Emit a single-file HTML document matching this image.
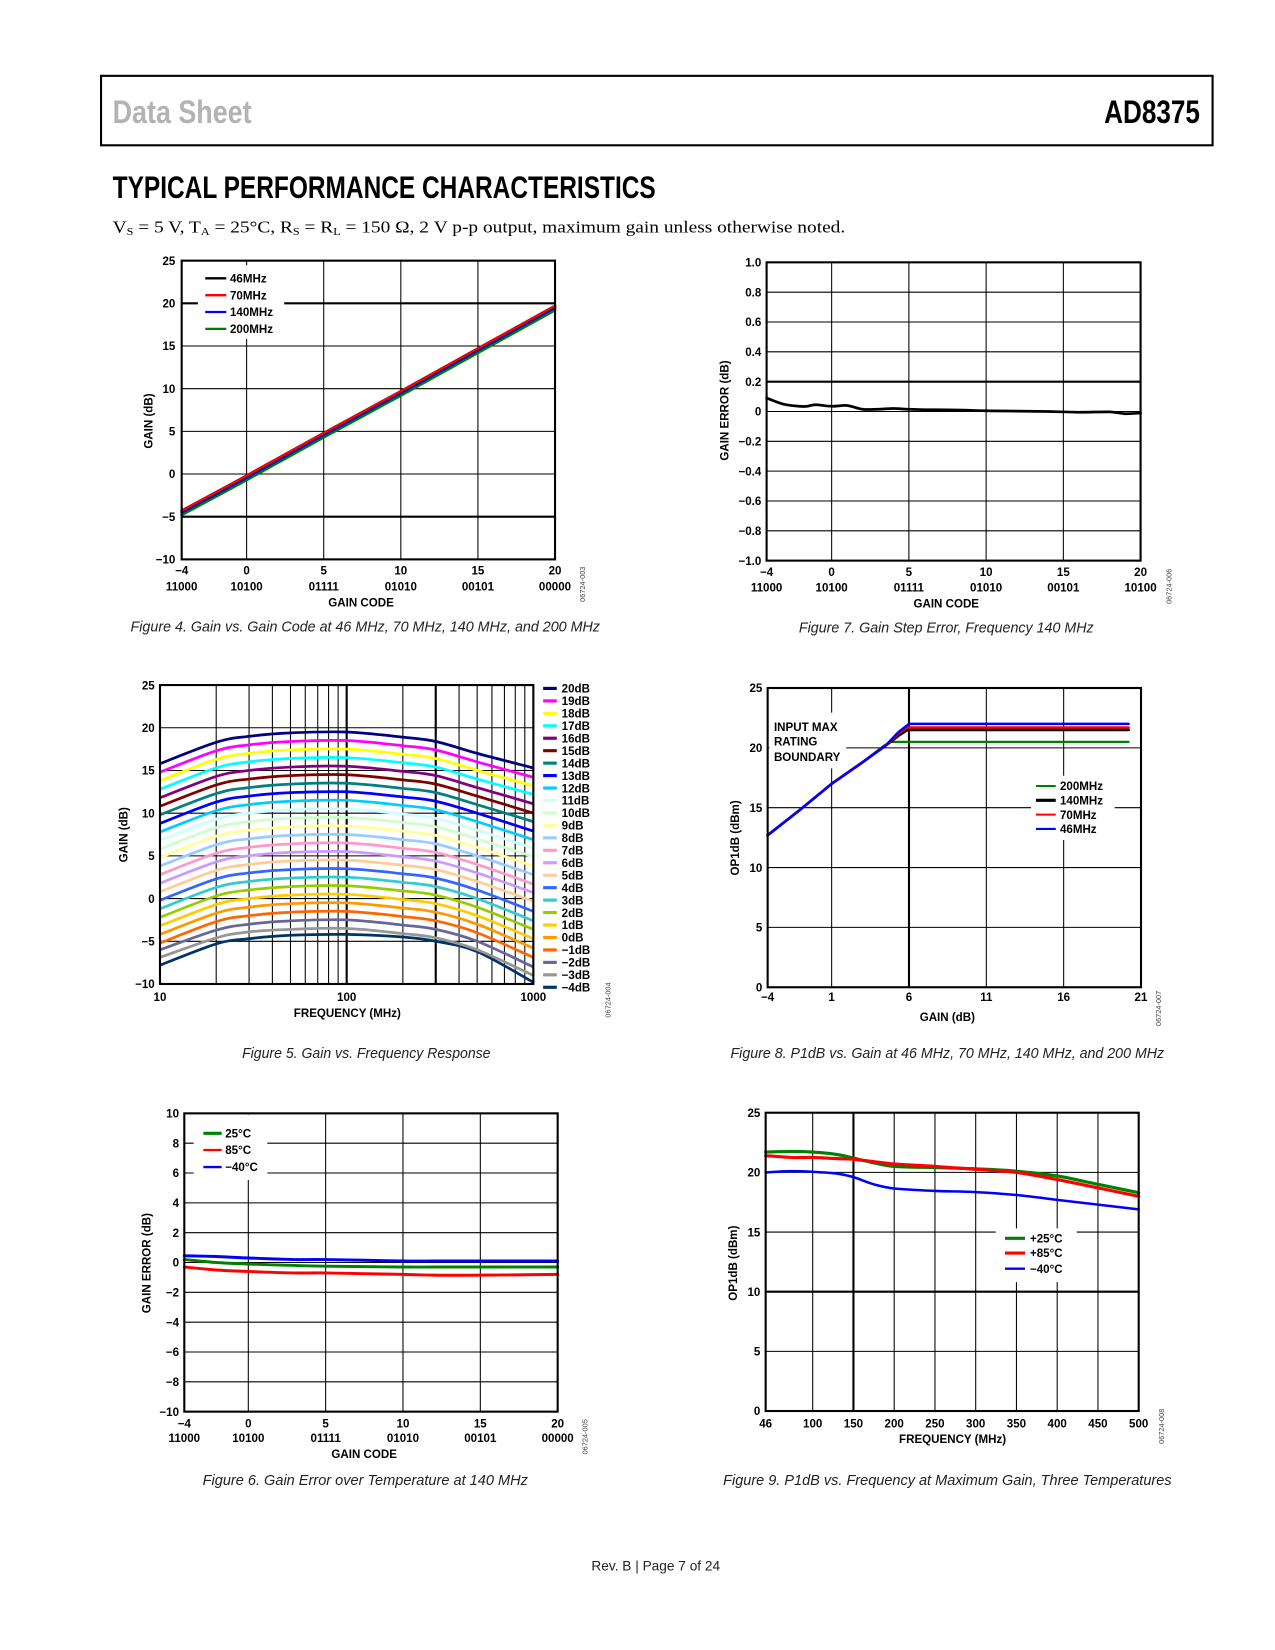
<!DOCTYPE html>
<html><head><meta charset="utf-8"><style>
html,body{margin:0;padding:0;background:#fff}
svg{display:block}
.t{font-family:"Liberation Sans",sans-serif;font-weight:bold;font-size:11px;fill:#000}
.cap{font-family:"Liberation Sans",sans-serif;font-style:italic;font-size:14px;fill:#222}
.id{font-family:"Liberation Sans",sans-serif;font-size:7px;fill:#444}
</style></head><body>
<svg id="page" width="1275" height="1650" viewBox="0 0 1211.3 1567.5" xmlns="http://www.w3.org/2000/svg">
<rect x="96" y="72" width="1056" height="66" fill="none" stroke="#000" stroke-width="2"/>
<text x="107" y="117" font-family="'Liberation Sans Narrow','Liberation Sans',sans-serif" font-weight="bold" font-size="31" fill="#b3b3b3" textLength="132" lengthAdjust="spacingAndGlyphs">Data Sheet</text>
<text x="1140" y="117" text-anchor="end" font-family="'Liberation Sans Narrow','Liberation Sans',sans-serif" font-weight="bold" font-size="31" fill="#000" textLength="91" lengthAdjust="spacingAndGlyphs">AD8375</text>
<text x="107" y="188" font-family="'Liberation Sans Narrow','Liberation Sans',sans-serif" font-weight="bold" font-size="30" fill="#000" textLength="516" lengthAdjust="spacingAndGlyphs">TYPICAL PERFORMANCE CHARACTERISTICS</text>
<text x="107" y="221" font-family="'Liberation Serif',serif" font-size="16" fill="#000" textLength="696" lengthAdjust="spacingAndGlyphs">V<tspan font-size="10" dy="2">S</tspan><tspan dy="-2"> = 5 V, T</tspan><tspan font-size="10" dy="2">A</tspan><tspan dy="-2"> = 25°C, R</tspan><tspan font-size="10" dy="2">S</tspan><tspan dy="-2"> = R</tspan><tspan font-size="10" dy="2">L</tspan><tspan dy="-2"> = 150 Ω, 2 V p-p output, maximum gain unless otherwise noted.</tspan></text>
<text x="623" y="1492" text-anchor="middle" font-family="'Liberation Sans',sans-serif" font-size="13" fill="#222">Rev. B | Page 7 of 24</text>
</svg>
<script>
// ---------- DATA ----------
// Figure 4
const f4X = [-4, 0, 5, 10, 15, 20];
const f4Names = ['46MHz', '70MHz', '140MHz', '200MHz'];
const f4_46 = [-4.3, -0.2, 4.8, 9.7, 14.7, 19.7];
const f4_70 = [-4.3, -0.2, 4.8, 9.7, 14.7, 19.7];
const f4_140 = [-4.5, -0.4, 4.6, 9.5, 14.5, 19.5];
const f4_200 = [-4.8, -0.7, 4.3, 9.2, 14.2, 19.2];
const codesA = ['11000', '10100', '01111', '01010', '00101', '00000'];
const codesB = ['11000', '10100', '01111', '01010', '00101', '10100'];
const codeTicks = [-4, 0, 5, 10, 15, 20];
// Figure 7
const f7X = [-4, -3, -2, -1.5, -1, 0, 1, 2, 3, 4, 5, 6, 8, 10, 12, 14, 16, 18, 19, 20];
const f7Err = [0.09, 0.05, 0.035, 0.035, 0.045, 0.035, 0.04, 0.015, 0.015, 0.02, 0.015, 0.012, 0.01, 0.005, 0.003, 0.0, -0.005, -0.003, -0.015, -0.01];
const f7YTicks = [1.0, 0.8, 0.6, 0.4, 0.2, 0, -0.2, -0.4, -0.6, -0.8, -1.0];
const f7YLabels = ['1.0', '0.8', '0.6', '0.4', '0.2', '0', '−0.2', '−0.4', '−0.6', '−0.8', '−1.0'];
// Figure 5
const f5Freq = [10, 20, 30, 50, 100, 200, 300, 500, 1000];
const f5Labels = ['20dB','19dB','18dB','17dB','16dB','15dB','14dB','13dB','12dB','11dB','10dB','9dB','8dB','7dB','6dB','5dB','4dB','3dB','2dB','1dB','0dB','−1dB','−2dB','−3dB','−4dB'];
const f5Colors = ['#000080','#ff00ff','#ffff00','#00ffff','#800080','#800000','#008080','#0000ff','#00ccff','#ccffff','#ccffcc','#ffff99','#99ccff','#ff99cc','#cc99ff','#ffcc99','#3366ff','#33cccc','#99cc00','#ffcc00','#ff9900','#ff6600','#666699','#969696','#003366'];
const g20 = [15.8,18.3,19.0,19.4,19.5,18.9,18.4,17.0,15.3];
const g19 = [14.8,17.3,18.0,18.4,18.5,17.9,17.4,16.0,14.2];
const g18 = [13.8,16.3,17.0,17.4,17.5,16.9,16.4,15.0,13.2];
const g17 = [12.8,15.3,16.0,16.4,16.5,15.9,15.4,14.0,12.2];
const g16 = [11.8,14.3,15.0,15.4,15.5,14.9,14.4,13.0,11.1];
const g15 = [10.8,13.3,14.0,14.4,14.5,13.9,13.4,12.0,10.0];
const g14 = [9.8,12.3,13.0,13.4,13.5,12.9,12.4,11.0,9.0];
const g13 = [8.8,11.3,12.0,12.4,12.5,11.9,11.4,10.0,7.9];
const g12 = [7.8,10.3,11.0,11.4,11.5,10.9,10.4,9.0,6.9];
const g11 = [6.8,9.3,10.0,10.4,10.5,9.9,9.4,8.0,5.9];
const g10 = [5.8,8.3,9.0,9.4,9.5,8.9,8.4,7.0,4.9];
const g9 = [4.8,7.3,8.0,8.4,8.5,7.9,7.4,6.0,3.8];
const g8 = [3.8,6.3,7.0,7.4,7.5,6.9,6.4,5.0,2.8];
const g7 = [2.8,5.3,6.0,6.4,6.5,5.9,5.4,4.0,1.7];
const g6 = [1.8,4.3,5.0,5.4,5.5,4.9,4.4,3.0,0.7];
const g5 = [0.8,3.3,4.0,4.4,4.5,3.9,3.4,2.0,-0.3];
const g4 = [-0.2,2.3,3.0,3.4,3.5,2.9,2.4,1.0,-1.5];
const g3 = [-1.2,1.3,2.0,2.4,2.5,1.9,1.4,0.0,-2.6];
const g2 = [-2.2,0.3,1.0,1.4,1.5,0.9,0.4,-1.0,-3.6];
const g1 = [-3.2,-0.7,0.0,0.4,0.5,-0.1,-0.6,-2.0,-4.7];
const g0 = [-4.2,-1.7,-1.0,-0.6,-0.5,-1.1,-1.6,-3.0,-5.8];
const gm1 = [-5.2,-2.7,-2.0,-1.6,-1.5,-2.1,-2.6,-4.0,-6.9];
const gm2 = [-6.0,-3.7,-3.0,-2.6,-2.5,-3.1,-3.6,-5.0,-8.0];
const gm3 = [-6.9,-4.6,-3.9,-3.6,-3.5,-4.1,-4.6,-6.0,-9.0];
const gm4 = [-7.8,-5.3,-4.7,-4.3,-4.2,-4.5,-5.0,-6.2,-9.8];
const f5Series = [g20,g19,g18,g17,g16,g15,g14,g13,g12,g11,g10,g9,g8,g7,g6,g5,g4,g3,g2,g1,g0,gm1,gm2,gm3,gm4];
// Figure 8
const f8Names = ['200MHz', '140MHz', '70MHz', '46MHz'];
const f8X_200 = [-4, -1.5, 1, 3, 4.3, 4.8, 20.2];
const f8Y_200 = [12.7, 14.8, 17.0, 18.8, 20.1, 20.5, 20.5];
const f8X_140 = [-4, -1.5, 1, 3, 4.5, 5.3, 5.9, 20.2];
const f8Y_140 = [12.7, 14.8, 17.0, 18.8, 20.2, 21.0, 21.5, 21.5];
const f8X_70 = [-4, -1.5, 1, 3, 4.5, 5.3, 5.9, 20.2];
const f8Y_70 = [12.7, 14.8, 17.0, 18.8, 20.2, 21.2, 21.7, 21.7];
const f8X_46 = [-4, -1.5, 1, 3, 4.5, 5.3, 6.0, 20.2];
const f8Y_46 = [12.7, 14.8, 17.0, 18.8, 20.2, 21.3, 22.0, 22.0];
const f8XTicks = [-4, 1, 6, 11, 16, 21];
// Figure 6
const f6X = [-4, -2, 0, 3, 5, 10, 12, 15, 20];
const f6_25 = [0.2, 0.0, -0.1, -0.2, -0.25, -0.3, -0.3, -0.3, -0.3];
const f6_85 = [-0.3, -0.5, -0.6, -0.7, -0.7, -0.8, -0.85, -0.85, -0.8];
const f6_m40 = [0.45, 0.4, 0.3, 0.2, 0.2, 0.1, 0.1, 0.1, 0.1];
const f6YTicks = [10, 8, 6, 4, 2, 0, -2, -4, -6, -8, -10];
// Figure 9
const f9F = [46, 75, 100, 130, 150, 175, 200, 250, 300, 350, 400, 450, 500];
const f9_25 = [21.7, 21.75, 21.7, 21.5, 21.2, 20.8, 20.5, 20.4, 20.3, 20.1, 19.7, 19.0, 18.3];
const f9_85 = [21.4, 21.25, 21.25, 21.15, 21.1, 20.9, 20.7, 20.5, 20.25, 20.0, 19.4, 18.7, 18.0];
const f9_m40 = [20.0, 20.1, 20.05, 19.9, 19.6, 19.0, 18.65, 18.45, 18.35, 18.1, 17.7, 17.3, 16.9];
const f9XTicks = [46, 100, 150, 200, 250, 300, 350, 400, 450, 500];

// ---------- HELPERS ----------
const NS = 'http://www.w3.org/2000/svg';
const page = document.getElementById('page');
function el(tag, attrs, parent) {
  const e = document.createElementNS(NS, tag);
  for (const k in attrs) e.setAttribute(k, attrs[k]);
  (parent || page).appendChild(e);
  return e;
}
function txt(s, x, y, cls, anchor, parent) {
  const e = el('text', {x: x, y: y, class: cls, 'text-anchor': anchor || 'middle'}, parent);
  e.textContent = s;
  return e;
}
function pw(d, r) {
  return v => {
    let i = 0;
    while (i < d.length - 2 && v > d[i + 1]) i++;
    return r[i] + (v - d[i]) / (d[i + 1] - d[i]) * (r[i + 1] - r[i]);
  };
}
function lin(d0, d1, r0, r1) { return v => r0 + (v - d0) / (d1 - d0) * (r1 - r0); }
function pathFrom(pts, straight) {
  let d = 'M' + pts[0][0].toFixed(1) + ',' + pts[0][1].toFixed(1);
  if (straight) {
    for (let i = 1; i < pts.length; i++) d += 'L' + pts[i][0].toFixed(1) + ',' + pts[i][1].toFixed(1);
    return d;
  }
  for (let i = 0; i < pts.length - 1; i++) {
    const p0 = pts[i - 1] || pts[i], p1 = pts[i], p2 = pts[i + 1], p3 = pts[i + 2] || p2;
    const c1x = p1[0] + (p2[0] - p0[0]) / 6, c1y = p1[1] + (p2[1] - p0[1]) / 6;
    const c2x = p2[0] - (p3[0] - p1[0]) / 6, c2y = p2[1] - (p3[1] - p1[1]) / 6;
    d += 'C' + c1x.toFixed(1) + ',' + c1y.toFixed(1) + ' ' + c2x.toFixed(1) + ',' + c2y.toFixed(1) + ' ' + p2[0].toFixed(1) + ',' + p2[1].toFixed(1);
  }
  return d;
}
function frame(g, b) {
  const r = el('rect', {x: b.l, y: b.t, width: b.r - b.l, height: b.b - b.t, fill: 'none', stroke: '#000', 'stroke-width': 2}, g);
  
  
}
function hline(g, y, b, w) { el('line', {x1: b.l, x2: b.r, y1: y, y2: y, stroke: '#000', 'stroke-width': w}, g); }
function vline(g, x, b, w) { el('line', {x1: x, x2: x, y1: b.t, y2: b.b, stroke: '#000', 'stroke-width': w}, g); }
function series(g, xs, ys, sx, sy, color, w, name, clip, straight) {
  const pts = xs.map((v, i) => [sx(v), sy(ys[i])]);
  const p = el('path', {d: pathFrom(pts, straight), fill: 'none', stroke: color, 'stroke-width': w, 'stroke-linejoin': 'round', 'stroke-linecap': 'round'}, g);
  if (clip) p.setAttribute('clip-path', clip);
  
  
  return p;
}
function legendBox(g, x, y, w, h) { el('rect', {x: x, y: y, width: w, height: h, fill: '#fff'}, g); }
function legendEntry(g, x1, x2, tx, y, color, w, label) {
  const le = el('g', {}, g);
  
  
  el('line', {x1: x1, x2: x2, y1: y, y2: y, stroke: color, 'stroke-width': w}, le);
  txt(label, tx, y + 4, 't', 'start', le);
}
function rotText(s, x, y, cls, parent) {
  const e = el('text', {x: 0, y: 0, class: cls, 'text-anchor': 'middle', transform: 'translate(' + x + ',' + y + ') rotate(-90)'}, parent);
  e.textContent = s;
  return e;
}
function caption(g, s, x, y, w) {
  const c = el('text', {x: x, y: y, class: 'cap', 'text-anchor': 'middle', textLength: w, lengthAdjust: 'spacingAndGlyphs'}, g);
  c.textContent = s;
  
  
}
function fig(name) {
  const g = el('g', {});
  
  
  return g;
}

// ---------- FIGURE 4 ----------
(function () {
  const g = fig('figure-4-gain-vs-code');
  const b = {l: 172.6, r: 527.3, t: 247.6, b: 531.4};
  const sx = pw([-4, 0, 20], [b.l, 234.3, b.r]);
  const sy = lin(-10, 25, b.b, b.t);
  [0, 5, 10, 15].forEach(v => vline(g, sx(v), b, 1));
  [-5, 0, 5, 10, 15, 20].forEach(v => hline(g, sy(v), b, (v === 20 || v === -5) ? 2 : 1));
  legendBox(g, 188, 252, 82, 70);
  series(g, f4X, f4_200, sx, sy, '#008000', 2.6, 'series-200mhz');
  series(g, f4X, f4_140, sx, sy, '#0000ff', 2.6, 'series-140mhz');
  series(g, f4X, f4_46, sx, sy, '#000000', 2.6, 'series-46mhz');
  series(g, f4X, f4_70, sx, sy, '#ff0000', 2.2, 'series-70mhz');
  frame(g, b);
  [25, 20, 15, 10, 5, 0, -5, -10].forEach(v => txt(String(v).replace('-', '−'), b.l - 6, sy(v) + 4, 't', 'end', g));
  codeTicks.forEach((v, i) => { txt(String(v).replace('-', '−'), sx(v), 546, 't', 'middle', g); txt(codesA[i], sx(v), 561, 't', 'middle', g); });
  txt('GAIN CODE', 343, 576, 't', 'middle', g);
  rotText('GAIN (dB)', 145, 400, 't', g);
  const cols = ['#000000', '#ff0000', '#0000ff', '#008000'];
  f4Names.forEach((n, i) => legendEntry(g, 195, 215, 218.5, 264.4 + i * 16, cols[i], 2.2, n));
  rotText('06724-003', 556, 555, 'id', g);
  caption(g, 'Figure 4. Gain vs. Gain Code at 46 MHz, 70 MHz, 140 MHz, and 200 MHz', 347, 600, 446);
})();

// ---------- FIGURE 7 ----------
(function () {
  const g = fig('figure-7-gain-step-error');
  const b = {l: 728.3, r: 1083.6, t: 249.2, b: 532.6};
  const sx = pw([-4, 0, 20], [b.l, 790.1, b.r]);
  const sy = lin(-1, 1, b.b, b.t);
  [0, 5, 10, 15].forEach(v => vline(g, sx(v), b, 1));
  f7YTicks.forEach(v => hline(g, sy(v), b, Math.abs(v - 0.2) < 1e-9 ? 2 : 1));
  series(g, f7X, f7Err, sx, sy, '#000', 2.6, 'series-gain-step-error');
  frame(g, b);
  f7YTicks.forEach((v, i) => txt(f7YLabels[i], b.l - 5, sy(v) + 4, 't', 'end', g));
  codeTicks.forEach((v, i) => { txt(String(v).replace('-', '−'), sx(v), 547, 't', 'middle', g); txt(codesB[i], sx(v), 562, 't', 'middle', g); });
  txt('GAIN CODE', 899, 577, 't', 'middle', g);
  rotText('GAIN ERROR (dB)', 692, 390, 't', g);
  rotText('06724-006', 1113, 557, 'id', g);
  caption(g, 'Figure 7. Gain Step Error, Frequency 140 MHz', 899, 601, 280);
})();

// ---------- FIGURE 5 ----------
(function () {
  const g = fig('figure-5-gain-vs-frequency');
  const b = {l: 152, r: 506.7, t: 650.8, b: 934.8};
  const sx = v => b.l + (Math.log10(v) - 1) / 2 * (b.r - b.l);
  const sy = lin(-10, 25, b.b, b.t);
  const defs = el('defs', {}, g);
  const cp = el('clipPath', {id: 'c5'}, defs);
  el('rect', {x: b.l, y: b.t, width: b.r - b.l, height: b.b - b.t}, cp);
  [20, 30, 40, 50, 60, 70, 80, 90, 100, 200, 300, 400, 500, 600, 700, 800, 900].forEach(v => vline(g, sx(v), b, (v === 100 || v === 300) ? 2 : 1));
  [-5, 0, 5, 10, 15, 20].forEach(v => hline(g, sy(v), b, 1));
  for (let i = f5Series.length - 1; i >= 0; i--) series(g, f5Freq, f5Series[i], sx, sy, f5Colors[i], 2.6, 'series-' + f5Labels[i].replace('−', 'minus-'), 'url(#c5)');
  frame(g, b);
  [25, 20, 15, 10, 5, 0, -5, -10].forEach(v => txt(String(v).replace('-', '−'), b.l - 5, sy(v) + 4, 't', 'end', g));
  [10, 100, 1000].forEach(v => txt(String(v), sx(v), 951, 't', 'middle', g));
  txt('FREQUENCY (MHz)', 330, 966, 't', 'middle', g);
  rotText('GAIN (dB)', 121, 793, 't', g);
  f5Labels.forEach((n, i) => legendEntry(g, 516, 529, 533.6, 654 + i * 11.83, f5Colors[i], 3, n));
  rotText('06724-004', 580, 950, 'id', g);
  caption(g, 'Figure 5. Gain vs. Frequency Response', 348, 1005, 236);
})();

// ---------- FIGURE 8 ----------
(function () {
  const g = fig('figure-8-p1db-vs-gain');
  const b = {l: 729.3, r: 1084, t: 653.6, b: 937.9};
  const sx = pw([-4, 1, 21], [b.l, 790.1, b.r]);
  const sy = lin(0, 25, b.b, b.t);
  [1, 6, 11, 16].forEach(v => vline(g, sx(v), b, v === 6 ? 2 : 1));
  [5, 10, 15, 20].forEach(v => hline(g, sy(v), b, 1));
  legendBox(g, 731, 677, 73, 53);
  legendBox(g, 979.5, 737, 79.5, 61);
  series(g, f8X_200, f8Y_200, sx, sy, '#008000', 2.2, 'series-200mhz', null, true);
  series(g, f8X_140, f8Y_140, sx, sy, '#000000', 2.6, 'series-140mhz', null, true);
  series(g, f8X_70, f8Y_70, sx, sy, '#ff0000', 2.4, 'series-70mhz', null, true);
  series(g, f8X_46, f8Y_46, sx, sy, '#0000ff', 2.4, 'series-46mhz', null, true);
  frame(g, b);
  [25, 20, 15, 10, 5, 0].forEach(v => txt(String(v), b.l - 5, sy(v) + 4, 't', 'end', g));
  f8XTicks.forEach(v => txt(String(v).replace('-', '−'), sx(v), 951, 't', 'middle', g));
  txt('GAIN (dB)', 900, 970, 't', 'middle', g);
  rotText('OP1dB (dBm)', 702, 796, 't', g);
  const ann = el('g', {}, g);
  
  
  txt('INPUT MAX', 735.3, 694.3, 't', 'start', ann);
  txt('RATING', 735.3, 708.3, 't', 'start', ann);
  txt('BOUNDARY', 735.3, 722.9, 't', 'start', ann);
  const cols = ['#008000', '#000000', '#ff0000', '#0000ff'];
  f8Names.forEach((n, i) => legendEntry(g, 984.2, 1003, 1007, 746.7 + i * 13.6, cols[i], i === 1 ? 3 : 2, n));
  rotText('06724-007', 1103, 958, 'id', g);
  caption(g, 'Figure 8. P1dB vs. Gain at 46 MHz, 70 MHz, 140 MHz, and 200 MHz', 900, 1005, 412);
})();

// ---------- FIGURE 6 ----------
(function () {
  const g = fig('figure-6-gain-error-temperature');
  const b = {l: 175.1, r: 529.8, t: 1057.7, b: 1341.1};
  const sx = pw([-4, 0, 20], [b.l, 235.9, b.r]);
  const sy = lin(-10, 10, b.b, b.t);
  [0, 5, 10, 15].forEach(v => vline(g, sx(v), b, 1));
  f6YTicks.forEach(v => hline(g, sy(v), b, 1));
  legendBox(g, 184, 1059, 70, 62);
  series(g, f6X, f6_85, sx, sy, '#ff0000', 2.8, 'series-85c');
  series(g, f6X, f6_25, sx, sy, '#008000', 2.8, 'series-25c');
  series(g, f6X, f6_m40, sx, sy, '#0000ff', 2.8, 'series-minus-40c');
  frame(g, b);
  f6YTicks.forEach(v => txt(String(v).replace('-', '−'), b.l - 5, sy(v) + 4, 't', 'end', g));
  codeTicks.forEach((v, i) => { txt(String(v).replace('-', '−'), sx(v), 1356, 't', 'middle', g); txt(codesA[i], sx(v), 1370, 't', 'middle', g); });
  txt('GAIN CODE', 346, 1385, 't', 'middle', g);
  rotText('GAIN ERROR (dB)', 143, 1200, 't', g);
  legendEntry(g, 193.2, 210.6, 214, 1076.7, '#008000', 3, '25°C');
  legendEntry(g, 193.2, 210.6, 214, 1092.5, '#ff0000', 2.2, '85°C');
  legendEntry(g, 193.2, 210.6, 214, 1108.7, '#0000ff', 2.2, '−40°C');
  rotText('06724-005', 558, 1365, 'id', g);
  caption(g, 'Figure 6. Gain Error over Temperature at 140 MHz', 347, 1411, 309);
})();

// ---------- FIGURE 9 ----------
(function () {
  const g = fig('figure-9-p1db-vs-frequency');
  const b = {l: 727.4, r: 1081.8, t: 1057.1, b: 1340.5};
  const sx = pw([46, 100, 500], [b.l, 772.1, b.r]);
  const sy = lin(0, 25, b.b, b.t);
  [100, 150, 200, 250, 300, 350, 400, 450].forEach(v => vline(g, sx(v), b, v === 150 ? 2 : 1));
  [5, 10, 15, 20].forEach(v => hline(g, sy(v), b, v === 10 ? 2 : 1));
  legendBox(g, 946, 1167, 77, 51);
  series(g, f9F, f9_25, sx, sy, '#008000', 3, 'series-plus-25c');
  series(g, f9F, f9_85, sx, sy, '#ff0000', 3, 'series-plus-85c');
  series(g, f9F, f9_m40, sx, sy, '#0000ff', 2.4, 'series-minus-40c');
  frame(g, b);
  [25, 20, 15, 10, 5, 0].forEach(v => txt(String(v), b.l - 5, sy(v) + 4, 't', 'end', g));
  f9XTicks.forEach(v => txt(String(v), sx(v), 1356, 't', 'middle', g));
  txt('FREQUENCY (MHz)', 905, 1371, 't', 'middle', g);
  rotText('OP1dB (dBm)', 700, 1200, 't', g);
  legendEntry(g, 954.8, 973.8, 978.5, 1176.4, '#008000', 3, '+25°C');
  legendEntry(g, 954.8, 973.8, 978.5, 1190.4, '#ff0000', 3, '+85°C');
  legendEntry(g, 954.8, 973.8, 978.5, 1205.3, '#0000ff', 2.2, '−40°C');
  rotText('06724-008', 1106, 1355, 'id', g);
  caption(g, 'Figure 9. P1dB vs. Frequency at Maximum Gain, Three Temperatures', 900, 1411, 426);
})();
</script>
</body></html>
